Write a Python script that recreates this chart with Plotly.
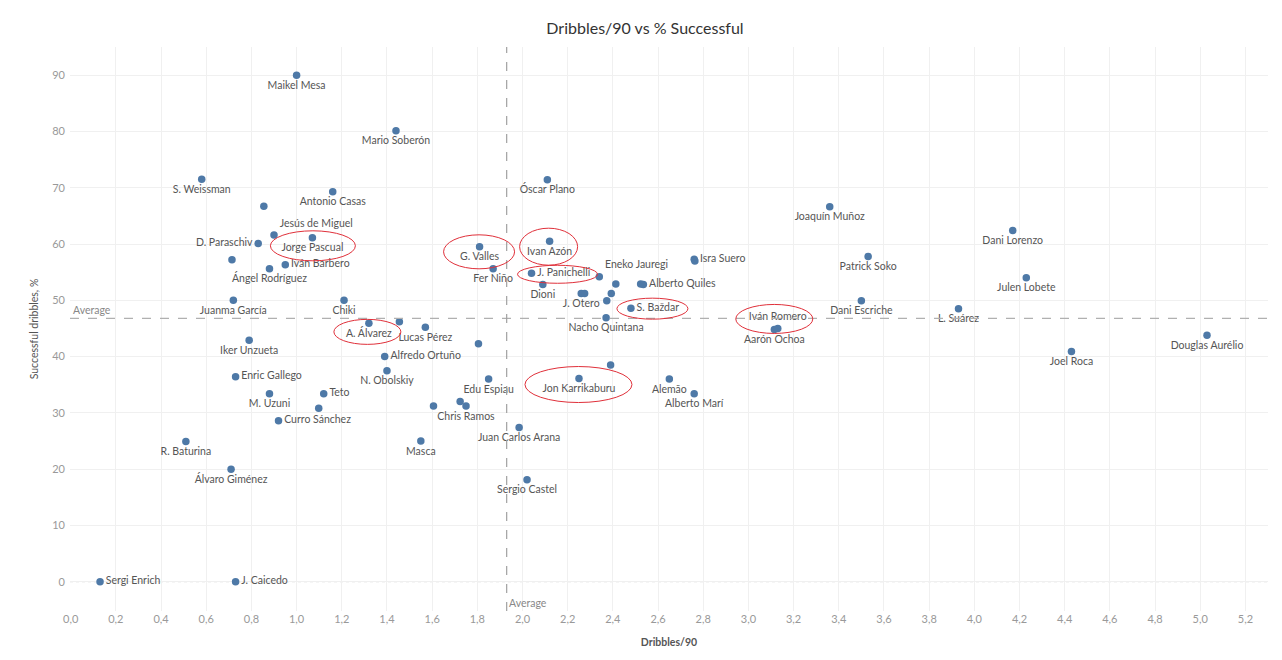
import plotly.graph_objects as go

# Dribbles per 90 and % successful dribbles per player ("" = unlabelled mark)
players = [
    "Maikel Mesa", "Mario Soberón", "S. Weissman", "Antonio Casas", "Óscar Plano",
    "Joaquín Muñoz", "Dani Lorenzo", "", "Jesús de Miguel", "Jorge Pascual",
    "D. Paraschiv", "Ivan Azón", "G. Valles", "Isra Suero", "", "Patrick Soko",
    "", "Iván Barbero", "Ángel Rodríguez", "Fer Niño", "J. Panichelli",
    "Eneko Jauregi", "Julen Lobete", "", "", "Alberto Quiles", "Dioni",
    "J. Otero", "", "", "", "Juanma García", "Chiki", "Dani Escriche",
    "S. Baždar", "L. Suárez", "Nacho Quintana", "A. Álvarez", "", "Lucas Pérez",
    "Iván Romero", "Aarón Ochoa", "Douglas Aurélio", "Iker Unzueta", "",
    "Joel Roca", "Alfredo Ortuño", "", "N. Obolskiy", "Enric Gallego",
    "Jon Karrikaburu", "Edu Espiau", "Alemão", "M. Uzuni", "Teto",
    "Alberto Marí", "", "", "", "Chris Ramos", "Curro Sánchez",
    "Juan Carlos Arana", "R. Baturina", "Masca", "Álvaro Giménez",
    "Sergio Castel", "Sergi Enrich", "J. Caicedo",
]
dribbles_90 = [
    1.00, 1.44, 0.58, 1.16, 2.11,
    3.36, 4.17, 0.855, 0.90, 1.07,
    0.83, 2.12, 1.81, 2.76, 2.763, 3.53,
    0.714, 0.95, 0.88, 1.87, 2.04,
    2.34, 4.23, 2.413, 2.523, 2.535, 2.09,
    2.26, 2.275, 2.393, 2.373, 0.72, 1.21, 3.50,
    2.48, 3.93, 2.37, 1.32, 1.455, 1.57,
    3.13, 3.115, 5.03, 0.79, 1.805,
    4.43, 1.39, 2.39, 1.40, 0.73,
    2.25, 1.85, 2.65, 0.88, 1.12,
    2.76, 1.098, 1.606, 1.724, 1.75, 0.92,
    1.985, 0.51, 1.55, 0.71,
    2.02, 0.13, 0.73,
]
success_pct = [
    90.0, 80.1, 71.5, 69.3, 71.4,
    66.6, 62.4, 66.7, 61.6, 61.1,
    60.1, 60.5, 59.5, 57.3, 57.0, 57.8,
    57.2, 56.3, 55.6, 55.6, 54.8,
    54.2, 54.0, 52.9, 52.9, 52.8, 52.8,
    51.2, 51.2, 51.2, 49.9, 50.0, 50.0, 49.9,
    48.6, 48.5, 46.9, 45.9, 46.2, 45.2,
    45.0, 44.8, 43.8, 42.9, 42.3,
    40.9, 40.0, 38.5, 37.5, 36.4,
    36.1, 36.0, 36.0, 33.4, 33.4,
    33.4, 30.8, 31.2, 32.0, 31.2, 28.6,
    27.4, 24.9, 25.0, 20.0,
    18.1, 0.0, 0.0,
]

avg_dribbles = 1.93
avg_success = 46.8

# players highlighted with a red ellipse
highlighted = ["Jorge Pascual", "G. Valles", "Ivan Azón", "J. Panichelli",
               "A. Álvarez", "S. Baždar", "Iván Romero", "Jon Karrikaburu"]

# label side for players not labelled underneath
right_labels = {"D. Paraschiv": "middle left", "Isra Suero": "middle right",
                "Iván Barbero": "middle right", "J. Panichelli": "middle right",
                "Eneko Jauregi": "top right", "Jesús de Miguel": "top right",
                "Alberto Quiles": "middle right", "S. Baždar": "middle right",
                "Iván Romero": "top center", "Alfredo Ortuño": "middle right",
                "Enric Gallego": "middle right", "Teto": "middle right",
                "Curro Sánchez": "middle right", "Sergi Enrich": "middle right",
                "J. Caicedo": "middle right"}
positions = [right_labels.get(p, "bottom center") for p in players]

# ellipse pixel extents around each highlighted point: (left, right, top, bottom)
ellipse_px = {"Jorge Pascual": (-42, 43, -7, 23), "G. Valles": (-36, 35, -12, 22),
              "Ivan Azón": (-30, 28, -13, 24), "J. Panichelli": (-14, 66, -8, 10),
              "A. Álvarez": (-35, 32, -4, 21), "S. Baždar": (-14, 57, -10, 11),
              "Iván Romero": (-42, 35, -24, 5), "Jon Karrikaburu": (-54, 53, -12, 24)}

FONT = "Lato, 'Open Sans', sans-serif"

fig = go.Figure()
fig.add_trace(go.Scatter(
    x=dribbles_90, y=success_pct, text=players, mode="markers+text",
    textposition=positions, cliponaxis=False,
    textfont=dict(family=FONT, size=10.5, color="#555555"),
    marker=dict(size=7.5, color="#4e79a7"),
    hovertemplate="%{text}<br>%{x:.2f}<br>%{y:.1f}%<extra></extra>",
))

# reference lines
fig.add_hline(y=0, line=dict(color="#d0d0d0", width=1, dash="dot"), layer="below")
fig.add_hline(y=avg_success, line=dict(color="#b0b0b0", width=1.2, dash="dash"))
fig.add_vline(x=avg_dribbles, line=dict(color="#a0a0a0", width=1.2, dash="dash"))
fig.add_annotation(x=0, xref="paper", y=avg_success, yref="y", text="Average",
                   showarrow=False, xanchor="left", yanchor="bottom", xshift=1,
                   font=dict(family=FONT, size=10.5, color="#888888"))
fig.add_annotation(x=avg_dribbles, xref="x", y=0, yref="paper", text="Average",
                   showarrow=False, xanchor="left", yanchor="bottom", xshift=0,
                   font=dict(family=FONT, size=10.5, color="#888888"))

for name in highlighted:
    i = players.index(name)
    l, r, t, b = ellipse_px[name]
    fig.add_shape(type="circle", xref="x", yref="y",
                  xsizemode="pixel", ysizemode="pixel",
                  xanchor=dribbles_90[i], yanchor=success_pct[i],
                  x0=l, x1=r, y0=-b, y1=-t,
                  line=dict(color="#e0303a", width=1))

# page body adds an 8px offset, so the figure is a little smaller than the window
fig.update_layout(
    width=1274, height=652,
    margin=dict(l=62, r=14, t=39, b=49),
    paper_bgcolor="white", plot_bgcolor="white",
    separators=",.",
    showlegend=False,
    font=dict(family=FONT, color="#555555"),
    title=dict(text="Dribbles/90 vs % Successful", x=0.5, xanchor="center",
               y=0.969, yanchor="middle",
               font=dict(family=FONT, size=16, color="#333333")),
)
fig.update_xaxes(
    range=[-0.003, 5.3], dtick=0.2, tick0=0, tickformat=".1f",
    showgrid=True, gridcolor="#f0f0f0", zeroline=False, showline=False,
    tickfont=dict(family=FONT, size=11, color="#999999"),
    title=dict(text="<b>Dribbles/90</b>", standoff=14,
               font=dict(family=FONT, size=10.5, color="#555555")),
)
fig.update_yaxes(
    range=[-5.2, 95], dtick=10, tick0=0,
    showgrid=True, gridcolor="#f0f0f0", zeroline=False, showline=False,
    tickfont=dict(family=FONT, size=11, color="#999999"),
    ticklabelstandoff=4,
    title=dict(text="Successful dribbles, %", standoff=11,
               font=dict(family=FONT, size=10.5, color="#555555")),
)

fig.write_html("out.html")
